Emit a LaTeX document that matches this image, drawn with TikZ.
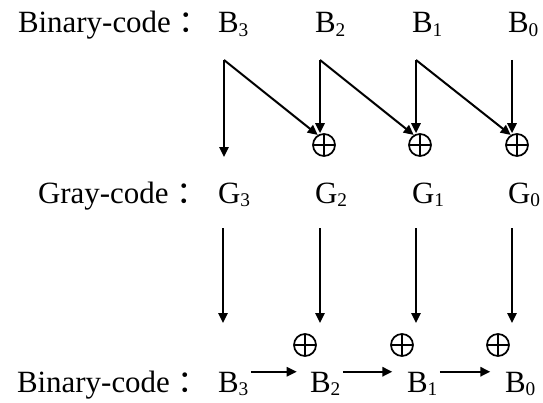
\documentclass[tikz,border=0pt]{standalone}
\usepackage{fontspec}
\setmainfont{Liberation Serif}
\newfontfamily\cjk{Noto Sans CJK SC}
\usetikzlibrary{arrows.meta}
% subscript digit
\newcommand{\sbd}[1]{\raisebox{-2.6pt}{\fontsize{14.5}{14.5}\selectfont #1}}
% full-width colon after a row label
\newcommand{\fwcolon}{\hspace{6pt}{\cjk ：}}
\begin{document}
\begin{tikzpicture}[x=0.75pt,y=-0.75pt,
  txt/.style={anchor=base west,inner sep=0pt,outer sep=0pt,font=\fontsize{23.2}{27}\selectfont},
  xorbox/.style={circle,draw,line width=1.3pt,minimum size=16.5pt,inner sep=0pt,
    path picture={\draw[line width=1.3pt]
      (path picture bounding box.north) -- (path picture bounding box.south)
      (path picture bounding box.west) -- (path picture bounding box.east);}},
  link/.style={line width=1.5pt,-{Triangle[length=7.5pt,width=7pt]}}]
\useasboundingbox (0,0) rectangle (543,403);

% row 1: binary input
\node[txt] (bin1) at (18,33) {Binary-code\fwcolon};
\node[txt] (b3) at (218,33) {B\sbd{3}};
\node[txt] (b2) at (315,33) {B\sbd{2}};
\node[txt] (b1) at (412,33) {B\sbd{1}};
\node[txt] (b0) at (508,33) {B\sbd{0}};

% row 2: gray code
\node[txt] (gray) at (38,203) {Gray-code\fwcolon};
\node[txt] (g3) at (218,203) {G\sbd{3}};
\node[txt] (g2) at (315,203) {G\sbd{2}};
\node[txt] (g1) at (412,203) {G\sbd{1}};
\node[txt] (g0) at (508,203) {G\sbd{0}};

% row 3: binary output
\node[txt] (bin2) at (17,392) {Binary-code\fwcolon};
\node[txt] (c3) at (218,392) {B\sbd{3}};
\node[txt] (c2) at (310,392) {B\sbd{2}};
\node[txt] (c1) at (407,392) {B\sbd{1}};
\node[txt] (c0) at (505,392) {B\sbd{0}};

% XOR gates, binary to gray
\node[xorbox] (xa2) at (324,145) {};
\node[xorbox] (xa1) at (420,145) {};
\node[xorbox] (xa0) at (517,145) {};

% XOR gates, gray to binary
\node[xorbox] (xb2) at (305,345) {};
\node[xorbox] (xb1) at (402,345) {};
\node[xorbox] (xb0) at (498,345) {};

% tap points below row 1
\coordinate (t3) at (224,60);
\coordinate (t2) at (320,60);
\coordinate (t1) at (416,60);
\coordinate (t0) at (512,60);
\coordinate (e3) at (224,157);

\draw[link] (t3) -- (e3);
\draw[link] (t3) -- (xa2.122);
\draw[link] (t2) -- (t2 |- xa2.north);
\draw[link] (t2) -- (xa1.122);
\draw[link] (t1) -- (t1 |- xa1.north);
\draw[link] (t1) -- (xa0.122);
\draw[link] (t0) -- (t0 |- xa0.north);

% tap points below row 2
\coordinate (u3) at (223,228);
\coordinate (u2) at (320,228);
\coordinate (u1) at (416,228);
\coordinate (u0) at (512,228);
\coordinate (v3) at (223,323);
\coordinate (v2) at (320,323);
\coordinate (v1) at (416,323);
\coordinate (v0) at (512,323);

\draw[link] (u3) -- (v3);
\draw[link] (u2) -- (v2);
\draw[link] (u1) -- (v1);
\draw[link] (u0) -- (v0);

% carry chain along row 3
\draw[link,shorten <=2pt,shorten >=10pt] (c3.north east) -- (c2.north west);
\draw[link,shorten <=2pt,shorten >=11pt] (c2.north east) -- (c1.north west);
\draw[link,shorten <=2pt,shorten >=11pt] (c1.north east) -- (c0.north west);
\end{tikzpicture}
\end{document}
